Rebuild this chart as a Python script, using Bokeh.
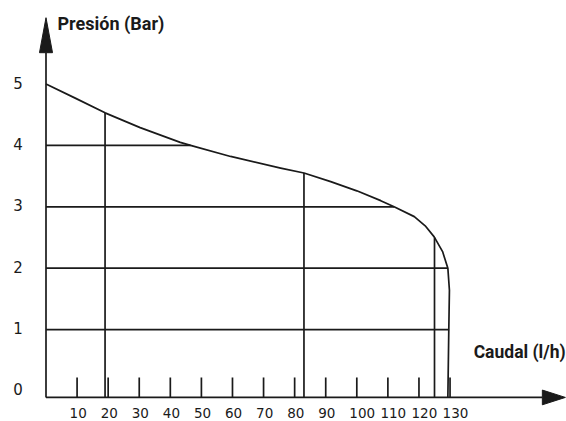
from bokeh.plotting import figure
from bokeh.models import Range1d
from bokeh.core.properties import value
from bokeh.embed import file_html
from bokeh.resources import INLINE

# ---- data ----
flow = [0, 9.4, 19, 30.3, 43.2, 46.5, 59.4, 75.5, 83, 91.6, 100.0, 107.7, 112, 118.5, 122.0, 124.9, 127.6, 129.3, 129.8, 129.6, 129.3]
pressure = [5.0, 4.77, 4.53, 4.29, 4.05, 4.0, 3.82, 3.63, 3.55, 3.41, 3.26, 3.10, 3.0, 2.84, 2.69, 2.51, 2.27, 2.0, 1.64, 1.0, -0.1]

guide_x = [19, 83, 125]          # vertical reference lines (flow)
guide_x_top = [4.53, 3.55, 2.5]  # where they meet the curve
guide_y = [4, 3, 2, 1]           # horizontal reference lines (pressure)
guide_y_end = [46.5, 112, 129.3, 129.7]

x_ticks = [10, 20, 30, 40, 50, 60, 70, 80, 90, 100, 110, 120, 130]
x_tick_labels = [str(v) for v in x_ticks]
y_ticks = [0, 1, 2, 3, 4, 5]
y_tick_labels = [str(v) for v in y_ticks]

x_title = "Caudal (l/h)"
y_title = "Presión (Bar)"

# ---- layout constants ----
X_MIN, X_MAX = -14.64, 167.47
Y_MIN, Y_MAX = -0.497, 6.36
AXIS_Y = -0.105
TICK_TOP = 0.22
ARROW_X_TIP, ARROW_X_BASE, ARROW_X_HALF = 167.1, 159.7, 0.12
ARROW_Y_TIP, ARROW_Y_BASE, ARROW_Y_HALF = 6.08, 5.51, 2.1
INK = "#1a1a1a"
LW = 1.7

p = figure(width=566, height=421, output_backend="svg", toolbar_location=None,
           x_range=Range1d(X_MIN, X_MAX), y_range=Range1d(Y_MIN, Y_MAX),
           min_border=0, min_border_left=0, min_border_right=0,
           min_border_top=0, min_border_bottom=0)
p.axis.visible = False
p.grid.visible = False
p.outline_line_color = None
p.background_fill_color = "white"
p.border_fill_color = "white"

# axes lines
p.segment(x0=[0], y0=[AXIS_Y], x1=[ARROW_X_BASE], y1=[AXIS_Y], line_color=INK, line_width=LW)
p.segment(x0=[0], y0=[AXIS_Y], x1=[0], y1=[ARROW_Y_BASE], line_color=INK, line_width=LW)
# arrow heads
p.patch(x=[ARROW_X_BASE, ARROW_X_TIP, ARROW_X_BASE],
        y=[AXIS_Y - ARROW_X_HALF, AXIS_Y, AXIS_Y + ARROW_X_HALF], color=INK)
p.patch(x=[-ARROW_Y_HALF, 0, ARROW_Y_HALF],
        y=[ARROW_Y_BASE, ARROW_Y_TIP, ARROW_Y_BASE], color=INK)

# ticks
p.segment(x0=x_ticks, y0=[AXIS_Y] * len(x_ticks), x1=x_ticks, y1=[TICK_TOP] * len(x_ticks),
          line_color=INK, line_width=LW)

# guide lines
p.segment(x0=guide_x, y0=[AXIS_Y] * len(guide_x), x1=guide_x, y1=guide_x_top,
          line_color=INK, line_width=LW)
p.segment(x0=[0] * len(guide_y), y0=guide_y, x1=guide_y_end, y1=guide_y,
          line_color=INK, line_width=LW)

# curve
p.line(flow, pressure, line_color=INK, line_width=LW, line_join="round")

# tick labels
p.text(x=x_ticks, y=[-0.366] * len(x_ticks), text=x_tick_labels,
       text_font=value("DejaVu Sans"), text_font_size="13.5px", text_color=INK,
       text_align="left", text_baseline="alphabetic", x_offset=-7.5)
p.text(x=[-9.0] * len(y_ticks), y=y_ticks, text=y_tick_labels,
       text_font=value("DejaVu Sans"), text_font_size="15px", text_color=INK,
       text_align="center", text_baseline="middle", y_offset=-1.5)

# titles
p.text(x=[3.7], y=[5.99], text=[y_title], text_font=value("Roboto"),
       text_font_style="bold", text_font_size="18px", text_color=INK,
       text_align="left", text_baseline="alphabetic")
p.text(x=[137.6], y=[0.627], text=[x_title], text_font=value("Roboto"),
       text_font_style="bold", text_font_size="17.5px", text_color=INK,
       text_align="left", text_baseline="alphabetic")

open("out.html", "w").write(file_html(p, INLINE))
